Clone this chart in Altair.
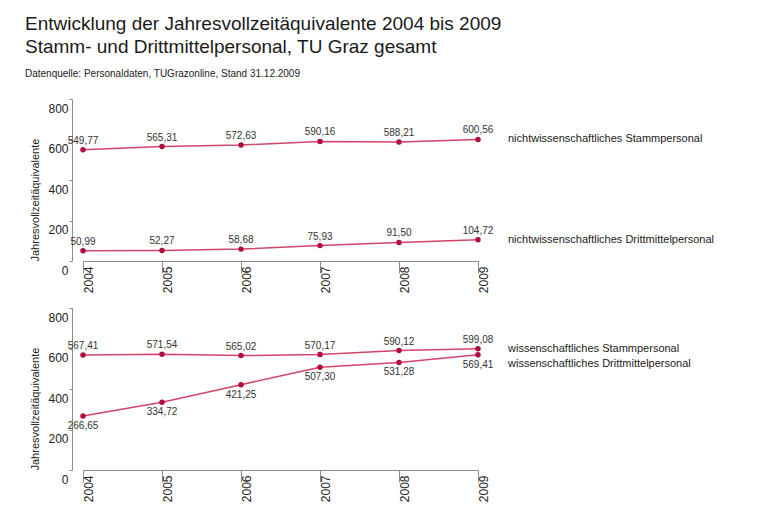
import altair as alt
import pandas as pd

years = [2004, 2005, 2006, 2007, 2008, 2009]
nw_stamm = [549.77, 565.31, 572.63, 590.16, 588.21, 600.56]
nw_dritt = [50.99, 52.27, 58.68, 75.93, 91.50, 104.72]
w_stamm = [567.41, 571.54, 565.02, 570.17, 590.12, 599.08]
w_dritt = [266.65, 334.72, 421.25, 507.30, 531.28, 569.41]

names = {
    "nws": "nichtwissenschaftliches Stammpersonal",
    "nwd": "nichtwissenschaftliches Drittmittelpersonal",
    "ws": "wissenschaftliches Stammpersonal",
    "wd": "wissenschaftliches Drittmittelpersonal",
}
y_ticks = [0, 200, 400, 600, 800]

LINE = "#d2446b"
DOT = "#b00c3c"
GRAY = "#8c8c8c"


def frame(key, vals):
    return pd.DataFrame({"year": years, "value": vals, "series": names[key]})


def panel(parts):
    """parts: list of (key, values, label_dy, end_dy)"""
    layers = []
    for key, vals, ldy, edy in parts:
        df = frame(key, vals)
        base = alt.Chart(df).encode(
            x=alt.X(
                "year:Q",
                scale=alt.Scale(domain=[2004, 2009], nice=False, zero=False),
                axis=alt.Axis(
                    values=years, format="d", labelAngle=-90, labelAlign="right",
                    labelBaseline="middle", labelOffset=5, tickSize=12,
                    labelPadding=-7, labelFontSize=12, labelColor="#222",
                    domainColor=GRAY, tickColor=GRAY, grid=False, title=None,
                    labelFlush=False, labelOverlap=False,
                ),
            ),
            y=alt.Y(
                "value:Q",
                scale=alt.Scale(domain=[0, 800], nice=False),
                axis=alt.Axis(
                    values=y_ticks, offset=11, tickSize=3, labelPadding=1,
                    labelBaseline="middle", labelOffset=9, labelFontSize=12,
                    labelColor="#222", domainColor=GRAY, tickColor=GRAY,
                    grid=False, title="Jahresvollzeitäquivalente",
                    titleFontSize=11, titleFontWeight="normal",
                    titleColor="#222", titleAnchor="start", titlePadding=7,
                    labelFlush=False, labelOverlap=False,
                ),
            ),
        )
        line = base.mark_line(color=LINE, strokeWidth=1.5)
        pts = base.mark_circle(color=DOT, size=30, opacity=1)
        lbl = base.transform_calculate(
            lab="replace(format(datum.value, '.2f'), '.', ',')"
        ).mark_text(fontSize=10, color="#333", dy=ldy).encode(text="lab:N")
        end = base.transform_filter("datum.year == 2009").mark_text(
            align="left", dx=30, dy=edy, fontSize=11, color="#222"
        ).encode(text="series:N")
        layers += [line, pts, lbl, end]
    return alt.layer(*layers).properties(width=395, height=162)


top = panel([("nws", nw_stamm, -9, 0), ("nwd", nw_dritt, -9, 0)])
bottom = panel([("ws", w_stamm, -9, 0), ("wd", w_dritt, 10, 9)])

chart = alt.vconcat(top, bottom, spacing=14).properties(
    title=alt.TitleParams(
        text=["Entwicklung der Jahresvollzeitäquivalente 2004 bis 2009",
              "Stamm- und Drittmittelpersonal, TU Graz gesamt"],
        subtitle="Datenquelle: Personaldaten, TUGrazonline, Stand 31.12.2009",
        anchor="start", fontSize=19, fontWeight="normal", lineHeight=23,
        color="#1a1a1a", subtitleFontSize=10, subtitleColor="#222",
        subtitlePadding=12, offset=20, dx=-5,
    ),
    padding={"left": 16, "top": 6, "right": 5, "bottom": 5},
).configure(font="Liberation Sans").configure_view(stroke=None)

chart.save("out.html", embed_options={"renderer": "svg", "actions": False})
